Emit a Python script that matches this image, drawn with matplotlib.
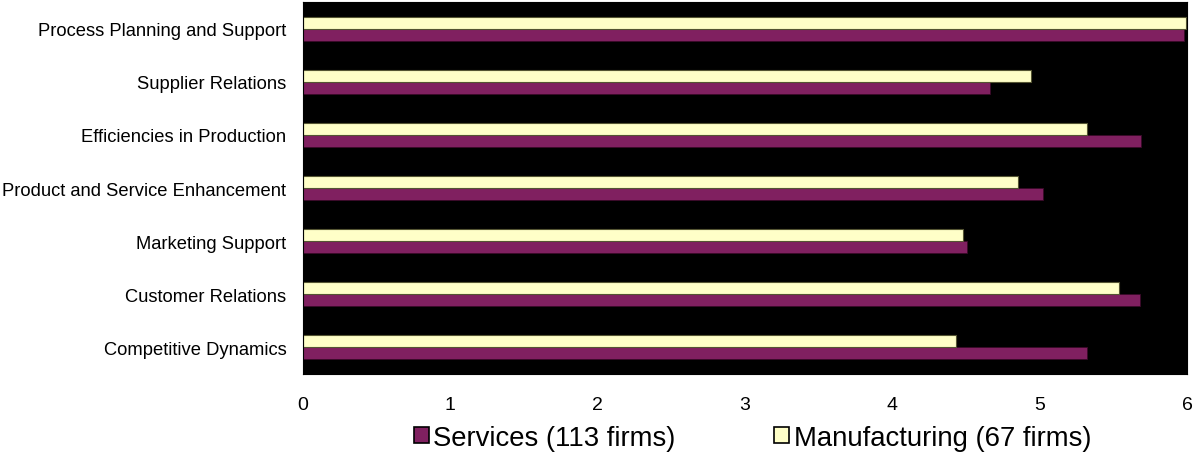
import numpy as np
import matplotlib
matplotlib.use("Agg")
import matplotlib.pyplot as plt
from matplotlib.patches import Patch

plt.rcParams['font.family'] = ['Liberation Sans', 'DejaVu Sans']

# categories listed bottom to top
categories = ["Competitive Dynamics", "Customer Relations", "Marketing Support",
              "Product and Service Enhancement", "Efficiencies in Production",
              "Supplier Relations", "Process Planning and Support"]
services = [5.32, 5.68, 4.51, 5.02, 5.69, 4.66, 5.98]
manufacturing = [4.43, 5.54, 4.48, 4.85, 5.32, 4.94, 5.99]
series_names = ["Services (113 firms)", "Manufacturing (67 firms)"]
xticks = [0, 1, 2, 3, 4, 5, 6]

purple = '#802060'
cream = '#FFFFC8'

fig = plt.figure(figsize=(11.98, 4.56), dpi=100)
ax = fig.add_axes([0.2529, 0.1776, 0.7379, 0.8158])
ax.set_facecolor('black')

y = np.arange(len(categories))
h = 0.225
ax.barh(y - h / 2, services, height=h, color=purple, edgecolor='#3a0a28', linewidth=0.6)
ax.barh(y + h / 2, manufacturing, height=h, color=cream, edgecolor='#555533', linewidth=0.8)

ax.set_xlim(0, 6)
ax.set_ylim(-0.5, len(categories) - 0.5)
ax.set_xticks(xticks)
ax.set_xticklabels([str(t) for t in xticks], fontsize=14)
ax.set_yticks(y)
ax.set_yticklabels(categories, fontsize=13.2)
ax.tick_params(axis='both', length=0)
ax.tick_params(axis='x', pad=16)
ax.tick_params(axis='y', pad=12)
for s in ax.spines.values():
    s.set_color('black')

handles = [Patch(facecolor=purple, edgecolor='black', linewidth=1.2),
           Patch(facecolor=cream, edgecolor='black', linewidth=1.2)]
fig.legend(handles, series_names, loc='center', bbox_to_anchor=(0.628, 0.038),
           ncol=2, frameon=False, fontsize=19.8, handlelength=0.55, handleheight=0.55,
           handletextpad=0.15, columnspacing=3.6, borderaxespad=0)

fig.savefig('out.png', dpi=100)
